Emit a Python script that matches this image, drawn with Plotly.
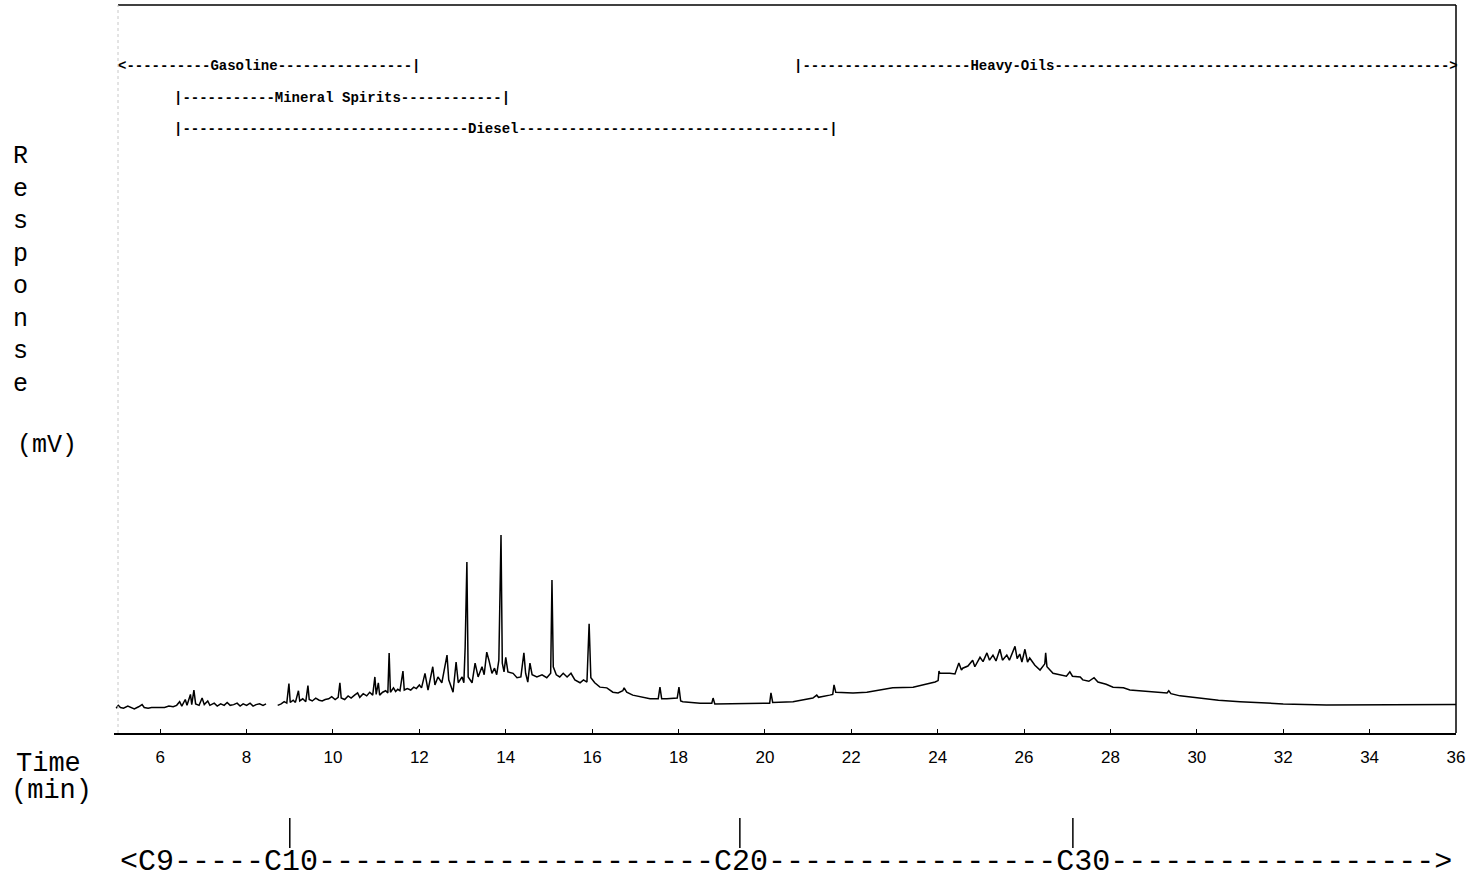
import plotly.graph_objects as go

# ---------------- data ----------------
time_min = [
    4.98, 5.03, 5.08, 5.15, 5.25, 5.32, 5.40, 5.50, 5.58, 5.63, 5.72, 5.80, 5.90, 6.00, 6.10,
    6.20, 6.30, 6.38, 6.45, 6.50, 6.58, 6.62, 6.70, 6.73, 6.78, 6.82, 6.90, 6.97, 7.02, 7.10,
    7.15, 7.25, 7.32, 7.40, 7.48, 7.55, 7.62, 7.70, 7.78, 7.85, 7.92, 8.00, 8.08, 8.15, 8.22,
    8.30, 8.38, 8.45, 8.52,
    8.72, 8.80, 8.87, 8.93, 8.98, 9.01, 9.08, 9.13, 9.20, 9.23, 9.30, 9.37, 9.42, 9.45, 9.52,
    9.60, 9.68, 9.75, 9.82, 9.90, 9.97, 10.05, 10.12, 10.16, 10.19, 10.27, 10.35, 10.42, 10.50,
    10.57, 10.62, 10.70, 10.78, 10.85, 10.92, 10.97, 11.00, 11.05, 11.08, 11.15, 11.22, 11.27,
    11.30, 11.33, 11.40, 11.45, 11.50, 11.55, 11.62, 11.65, 11.72, 11.80, 11.87, 11.93, 12.00,
    12.05, 12.13, 12.20, 12.31, 12.36, 12.43, 12.52, 12.64, 12.68, 12.78, 12.85, 12.90, 12.99,
    13.03, 13.06, 13.10, 13.13, 13.22, 13.29, 13.36, 13.45, 13.50, 13.56, 13.61, 13.68, 13.74,
    13.79, 13.84, 13.89, 13.92, 13.96, 14.00, 14.05, 14.17, 14.26, 14.35, 14.42, 14.46, 14.51,
    14.56, 14.61, 14.72, 14.84, 14.95, 15.04, 15.07, 15.10, 15.17, 15.25, 15.33, 15.42, 15.51,
    15.60, 15.72, 15.80, 15.88, 15.93, 15.97, 16.06, 16.18, 16.34, 16.48, 16.60, 16.71, 16.74,
    16.80, 16.94, 17.34, 17.53, 17.57, 17.61, 17.73, 17.97, 18.01, 18.05, 18.10, 18.50, 18.77,
    18.80, 18.84, 19.20, 19.65, 20.05, 20.11, 20.14, 20.18, 20.65, 21.11, 21.20, 21.24, 21.50,
    21.57, 21.60, 21.64, 22.04, 22.36, 22.96, 23.43, 23.94, 24.01, 24.03, 24.05, 24.28, 24.40,
    24.49, 24.55, 24.58, 24.70, 24.81, 24.86, 24.98, 25.05, 25.14, 25.20, 25.28, 25.35, 25.44,
    25.50, 25.60, 25.66, 25.79, 25.84, 25.90, 25.95, 26.02, 26.08, 26.13, 26.25, 26.37, 26.48,
    26.50, 26.53, 26.67, 26.85, 26.98, 27.06, 27.12, 27.30, 27.36, 27.50, 27.62, 27.71, 27.90,
    28.06, 28.30, 28.45, 28.68, 29.00, 29.31, 29.35, 29.40, 29.61, 30.00, 30.50, 31.00, 31.50,
    32.00, 33.00, 34.00, 35.00, 36.00,
]

response_mv = [
    3.4, 3.8, 3.5, 3.4, 3.7, 3.5, 3.3, 3.6, 3.9, 3.5, 3.4, 3.5, 3.5, 3.6, 3.5,
    3.7, 3.6, 3.8, 4.3, 3.7, 4.6, 3.8, 5.3, 3.9, 5.9, 4.0, 3.8, 4.8, 3.9, 4.4,
    3.8, 4.1, 3.7, 4.0, 3.8, 4.2, 3.8, 3.9, 4.1, 3.7, 4.0, 3.8, 4.1, 3.7, 3.9,
    4.0, 3.8, 4.0, None,
    3.8, 4.0, 4.3, 4.1, 6.8, 4.2, 4.5, 4.2, 5.8, 4.4, 4.7, 4.3, 6.5, 4.6, 4.4,
    4.8, 4.5, 4.4, 4.6, 4.7, 5.0, 4.6, 4.9, 6.9, 4.8, 4.6, 5.1, 4.8, 5.2,
    5.5, 4.9, 5.4, 5.1, 5.6, 5.2, 7.7, 5.3, 6.9, 5.2, 5.6, 5.8, 5.5,
    11.0, 5.6, 6.2, 5.7, 6.0, 5.8, 8.5, 5.9, 6.1, 5.9, 6.3, 6.1, 6.6,
    6.2, 8.2, 5.9, 9.1, 6.6, 7.7, 6.9, 10.7, 7.3, 5.6, 9.75, 6.9, 7.7,
    6.9, 11.8, 23.5, 7.7, 6.9, 9.6, 7.7, 9.1, 8.0, 11.1, 10.0, 8.2, 8.9,
    8.0, 10.0, 27.2, 9.6, 8.4, 10.4, 8.4, 8.2, 7.6, 7.7, 11.0, 8.2, 7.0,
    9.6, 8.0, 7.7, 8.0, 7.6, 8.2, 21.0, 9.1, 8.0, 7.7, 8.2, 7.7, 8.2,
    7.3, 6.9, 7.3, 7.0, 15.0, 7.6, 6.9, 6.3, 6.2, 5.6, 5.5, 5.8, 6.2,
    5.6, 5.2, 4.7, 4.7, 6.3, 4.7, 4.7, 4.8, 6.3, 4.4, 4.3, 4.1, 4.1,
    4.8, 4.0, 4.0, 4.0, 4.1, 4.1, 5.5, 4.2, 4.3, 4.8, 5.2, 4.9, 5.2,
    5.3, 6.6, 5.6, 5.5, 5.6, 6.2, 6.3, 7.0, 7.2, 8.5, 8.2, 8.2, 8.1,
    9.6, 8.65, 8.9, 9.2, 10.0, 9.1, 10.4, 9.8, 11.0, 10.0, 10.7, 9.9, 11.5,
    10.0, 10.7, 10.0, 11.9, 10.2, 10.85, 9.75, 11.5, 9.75, 10.3, 9.3, 8.65, 9.5,
    11.0, 9.1, 8.2, 8.0, 7.8, 8.4, 7.8, 7.7, 7.3, 7.1, 7.6, 7.0, 6.7,
    6.3, 6.2, 5.9, 5.8, 5.6, 5.5, 5.8, 5.4, 5.1, 4.8, 4.5, 4.3, 4.1,
    4.0, 3.85, 3.85, 3.9, 3.9,
]

x_tick_values = [6, 8, 10, 12, 14, 16, 18, 20, 22, 24, 26, 28, 30, 32, 34, 36]
carbon_names = ["C10", "C20", "C30"]
carbon_times = [9.0, 19.42, 27.13]

range_texts = [
    "<----------Gasoline----------------|",
    "|-----------Mineral Spirits------------|",
    "|----------------------------------Diesel-------------------------------------|",
    "|--------------------Heavy-Oils----------------------------------------------->",
]
range_starts = [4.98, 6.28, 6.28, 20.63]
range_rows = [0, 1, 2, 0]

# ---------------- figure ----------------
W, H = 1483, 880
L, R, T, B = 114, 27, 5, 147
plot_h = H - T - B

def py(px):  # pixel row -> paper y
    return (H - B - px) / plot_h

def px_x(px):  # pixel column -> paper x
    return (px - L) / (W - L - R)

fig = go.Figure()
fig.add_trace(go.Scatter(
    x=time_min, y=response_mv, mode="lines",
    line=dict(color="black", width=1.5), connectgaps=False,
    hoverinfo="skip", showlegend=False,
))

mono = "Liberation Mono, DejaVu Sans Mono, monospace"
row_px = [66, 98, 129]
for txt, x0, row in zip(range_texts, range_starts, range_rows):
    fig.add_annotation(
        x=x0, xref="x", y=py(row_px[row]), yref="paper",
        text="<b>" + txt.replace("<", "&lt;").replace(">", "&gt;") + "</b>",
        xanchor="left", yanchor="middle", showarrow=False,
        font=dict(family=mono, size=14, color="black"),
    )

# Response label
fig.add_annotation(
    x=px_x(20), xref="paper", y=py(270), yref="paper",
    text="<br>".join(list("Response")), showarrow=False,
    xanchor="center", yanchor="middle", align="center",
    font=dict(family=mono, size=25, color="black"),
)
fig.add_annotation(
    x=px_x(47), xref="paper", y=py(445), yref="paper", text="(mV)",
    showarrow=False, xanchor="center", yanchor="middle",
    font=dict(family=mono, size=25, color="black"),
)
fig.add_annotation(
    x=px_x(48), xref="paper", y=py(764), yref="paper", text="Time",
    showarrow=False, xanchor="center", yanchor="middle",
    font=dict(family=mono, size=27, color="black"),
)
fig.add_annotation(
    x=px_x(51), xref="paper", y=py(791), yref="paper", text="(min)",
    showarrow=False, xanchor="center", yanchor="middle",
    font=dict(family=mono, size=27, color="black"),
)

carbon_line = "<C9" + "-" * 5 + "C10" + "-" * 22 + "C20" + "-" * 16 + "C30" + "-" * 18 + ">"
fig.add_annotation(
    x=px_x(118), xref="paper", y=py(862), yref="paper",
    text=carbon_line.replace("<", "&lt;").replace(">", "&gt;"),
    showarrow=False, xanchor="left", yanchor="middle",
    font=dict(family=mono, size=30, color="black"),
)
for ct in carbon_times:
    fig.add_shape(type="line", xref="x", yref="paper", x0=ct, x1=ct,
                  y0=py(848), y1=py(818), line=dict(color="black", width=1.5))

# frame lines
fig.add_shape(type="line", xref="paper", yref="paper", x0=px_x(118), x1=1, y0=1, y1=1,
              line=dict(color="black", width=1.5))
fig.add_shape(type="line", xref="paper", yref="paper", x0=1, x1=1, y0=0, y1=1,
              line=dict(color="black", width=1.5))
fig.add_shape(type="line", xref="paper", yref="paper", x0=px_x(118), x1=px_x(118), y0=0, y1=1,
              line=dict(color="#c8c8c8", width=1, dash="dot"))

fig.update_layout(
    width=W, height=H,
    margin=dict(l=L, r=R, t=T, b=B),
    paper_bgcolor="white", plot_bgcolor="white",
    xaxis=dict(
        range=[4.93, 36], tickvals=x_tick_values, ticktext=[str(v) for v in x_tick_values],
        showgrid=False, zeroline=False, showline=True, linecolor="black", linewidth=1.5,
        ticks="inside", ticklen=4, tickcolor="black", ticklabelstandoff=8,
        tickfont=dict(family="Liberation Sans, Arial, sans-serif", size=17, color="black"),
    ),
    yaxis=dict(
        range=[0, 100], dtick=10, showgrid=False, zeroline=False, showline=False,
        ticks="", showticklabels=False,
    ),
)

fig.write_html("out.html", config={"displayModeBar": False},
               post_script="document.body.style.margin='0';")
